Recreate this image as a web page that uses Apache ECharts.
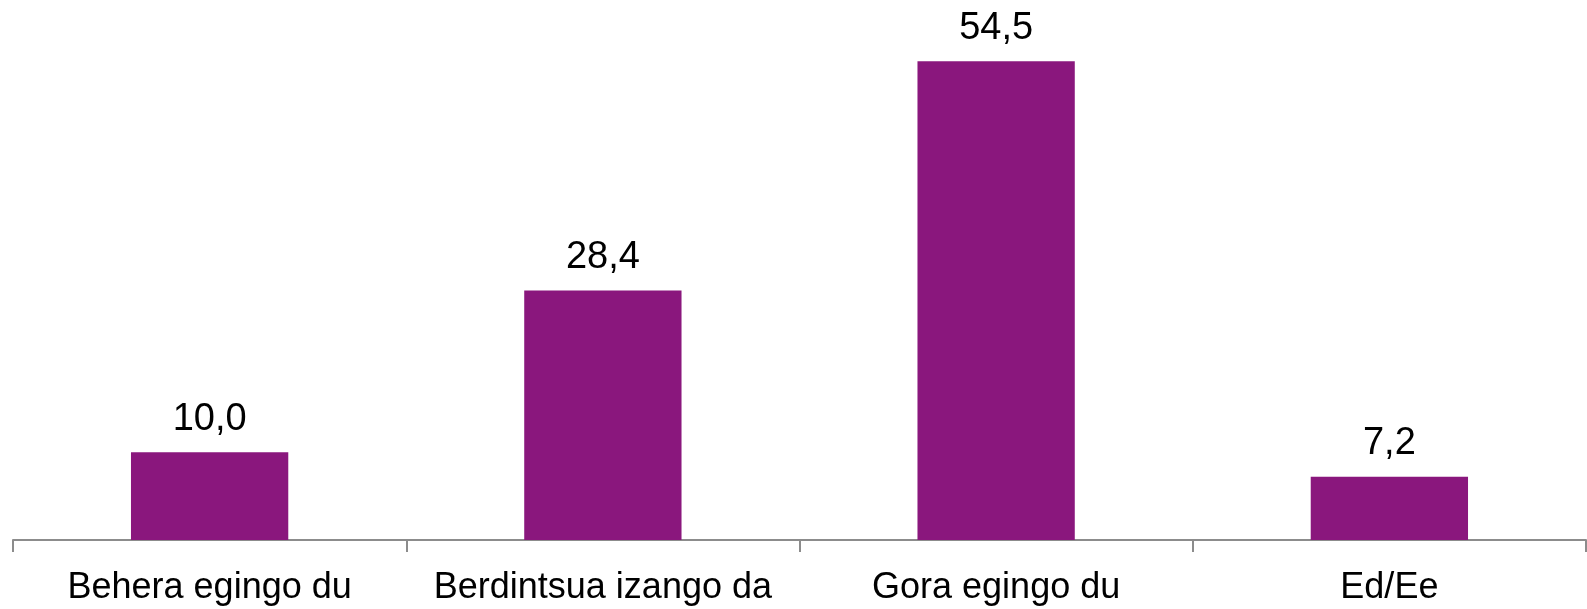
<!DOCTYPE html>
<html style="height: 100%">
<head>
<meta charset="utf-8" />
<title>Chart</title>
</head>
<body style="height: 100%; margin: 0; background: #fff">
<div id="container" style="width: 1587px; height: 609px"></div>
<script type="text/javascript" src="https://cdn.jsdelivr.net/npm/echarts@6/dist/echarts.min.js"></script>
<script type="text/javascript">
var categories = ['Behera egingo du', 'Berdintsua izango da', 'Gora egingo du', 'Ed/Ee'];
var values = [10.0, 28.4, 54.5, 7.2];

var dom = document.getElementById("container");
var myChart = echarts.init(dom);
var option = {
    animation: false,
    textStyle: { fontFamily: 'Liberation Sans' },
    grid: { left: 13, right: 1, top: 13, bottom: 69, containLabel: false },
    xAxis: {
        type: 'category',
        data: categories,
        axisLine: { lineStyle: { color: '#8c8c8c', width: 2 } },
        axisTick: { show: true, interval: 0, length: 12, lineStyle: { color: '#8c8c8c', width: 2 } },
        axisLabel: { interval: 0, color: '#000', fontSize: 36, margin: 30 }
    },
    yAxis: {
        type: 'value',
        min: 0,
        max: 60,
        show: false,
        splitLine: { show: false }
    },
    series: [{
        type: 'bar',
        data: values,
        barCategoryGap: '60%',
        itemStyle: { color: '#8a177d' },
        label: {
            show: true,
            position: 'top',
            distance: 14,
            color: '#000',
            fontSize: 38,
            formatter: function (p) { return p.value.toFixed(1).replace('.', ','); }
        }
    }]
};
myChart.setOption(option);
</script>
</body>
</html>
